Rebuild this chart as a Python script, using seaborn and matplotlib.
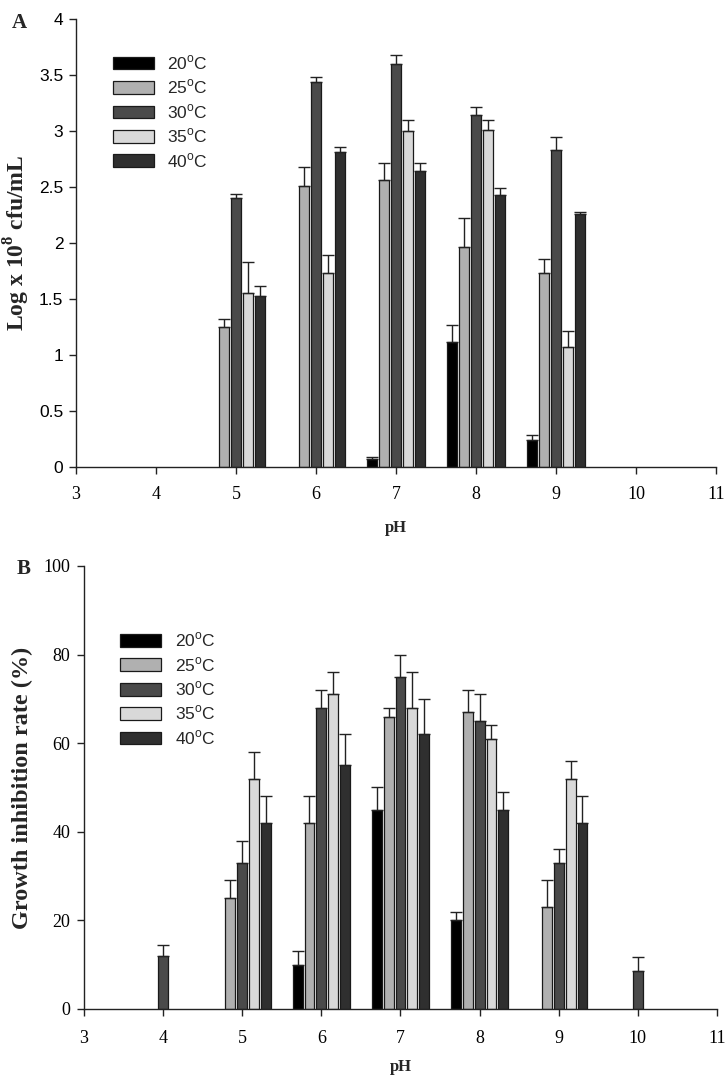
import pandas as pd
import seaborn as sns
import matplotlib.pyplot as plt

# --- DATA ---
temps = ['20$^\\mathregular{o}$C', '25$^\\mathregular{o}$C', '30$^\\mathregular{o}$C',
         '35$^\\mathregular{o}$C', '40$^\\mathregular{o}$C']
ph_ticks = [3, 4, 5, 6, 7, 8, 9, 10, 11]

# panel A: log x 10^8 cfu/mL, (pH, temp index, mean, top of error bar)
a_ph = [5, 5, 5, 5, 6, 6, 6, 6, 7, 7, 7, 7, 7, 8, 8, 8, 8, 8, 9, 9, 9, 9, 9]
a_temp = [1, 2, 3, 4, 1, 2, 3, 4, 0, 1, 2, 3, 4, 0, 1, 2, 3, 4, 0, 1, 2, 3, 4]
a_mean = [1.25, 2.40, 1.55, 1.53, 2.51, 3.44, 1.73, 2.81, 0.07, 2.56, 3.60, 3.00, 2.64,
          1.12, 1.96, 3.14, 3.01, 2.43, 0.24, 1.73, 2.83, 1.07, 2.26]
a_top = [1.32, 2.44, 1.83, 1.62, 2.68, 3.48, 1.89, 2.86, 0.09, 2.71, 3.68, 3.10, 2.71,
         1.27, 2.22, 3.21, 3.10, 2.49, 0.29, 1.86, 2.95, 1.21, 2.28]

# panel B: growth inhibition rate (%)
b_ph = [4, 5, 5, 5, 5, 6, 6, 6, 6, 6, 7, 7, 7, 7, 7, 8, 8, 8, 8, 8, 9, 9, 9, 9, 10]
b_temp = [2, 1, 2, 3, 4, 0, 1, 2, 3, 4, 0, 1, 2, 3, 4, 0, 1, 2, 3, 4, 1, 2, 3, 4, 2]
b_mean = [12, 25, 33, 52, 42, 10, 42, 68, 71, 55, 45, 66, 75, 68, 62,
          20, 67, 65, 61, 45, 23, 33, 52, 42, 8.5]
b_top = [14.5, 29, 38, 58, 48, 13, 48, 72, 76, 62, 50, 68, 80, 76, 70,
         22, 72, 71, 64, 49, 29, 36, 56, 48, 11.7]

colors = ['#000000', '#b0b0b0', '#4a4a4a', '#d9d9d9', '#2f2f2f']

sns.set_style('ticks')
plt.rcParams['font.family'] = ['Liberation Serif', 'DejaVu Serif']
plt.rcParams['mathtext.fontset'] = 'custom'
plt.rcParams['mathtext.rm'] = 'Liberation Sans'
plt.rcParams['mathtext.bf'] = 'Liberation Serif:bold'

fig = plt.figure(figsize=(7.27, 10.79), dpi=100)
ax_a = fig.add_axes([0.1045, 0.5672, 0.8803, 0.4152])
ax_b = fig.add_axes([0.1155, 0.0649, 0.8707, 0.4106])


def grouped_bars(ax, ph, temp, mean, top, legend_anchor, xpad, ypad, xlabelpad):
    df = pd.DataFrame({'pH': ph, 'temp': [temps[t] for t in temp], 'mean': mean, 'top': top})
    sns.barplot(data=df, x='pH', y='mean', hue='temp', hue_order=temps, palette=colors,
                native_scale=True, width=0.75, gap=0.17, edgecolor='#1a1a1a',
                linewidth=0.9, errorbar=None, ax=ax)
    # upward error bars at the dodged bar centres
    step = 0.75 / len(temps)
    xs = [p + (t - 2) * step for p, t in zip(df['pH'], temp)]
    ax.errorbar(xs, df['mean'], yerr=[[0] * len(df), df['top'] - df['mean']], fmt='none',
                ecolor='#222222', elinewidth=1.0, capsize=4.5, capthick=1.0, zorder=1)
    ax.set_xlim(3, 11)
    ax.set_xticks(ph_ticks)
    ax.set_xticklabels([str(p) for p in ph_ticks], fontsize=13)
    ax.set_xlabel('pH', fontsize=12, fontweight='bold', labelpad=xlabelpad)
    sns.despine(ax=ax)
    ax.tick_params(axis='x', direction='out', length=5, width=1, pad=xpad,
                   colors='#222222', labelcolor='black')
    ax.tick_params(axis='y', direction='out', length=5, width=1, pad=ypad,
                   colors='#222222', labelcolor='black')
    for s in ['left', 'bottom']:
        ax.spines[s].set_color('#222222')
        ax.spines[s].set_linewidth(1.0)
    ax.legend(loc='upper left', bbox_to_anchor=legend_anchor, frameon=False,
              prop={'family': 'Liberation Sans', 'size': 12.5},
              handlelength=2.35, handleheight=0.75, labelspacing=0.33, handletextpad=0.8)


grouped_bars(ax_a, a_ph, a_temp, a_mean, a_top, (0.033, 0.958), xpad=9, ypad=4, xlabelpad=12)
ax_a.set_ylim(0, 4)
ax_a.set_yticks([0, 0.5, 1, 1.5, 2, 2.5, 3, 3.5, 4])
ax_a.set_yticklabels(['0', '0.5', '1', '1.5', '2', '2.5', '3', '3.5', '4'],
                     fontsize=12.5, family='Liberation Sans')
ax_a.set_ylabel('Log x 10$^{\\mathbf{8}}$ cfu/mL', fontsize=17, fontweight='bold', labelpad=5)
fig.text(0.016, 0.974, 'A', fontsize=15, fontweight='bold')

grouped_bars(ax_b, b_ph, b_temp, b_mean, b_top, (0.033, 0.889), xpad=10, ypad=5, xlabelpad=9)
ax_b.set_ylim(0, 100)
ax_b.set_yticks([0, 20, 40, 60, 80, 100])
ax_b.set_yticklabels(['0', '20', '40', '60', '80', '100'], fontsize=13)
ax_b.set_ylabel('Growth inhibition rate (%)', fontsize=17.5, fontweight='bold', labelpad=7)
fig.text(0.023, 0.468, 'B', fontsize=15, fontweight='bold')

fig.savefig('out.png', dpi=100)
